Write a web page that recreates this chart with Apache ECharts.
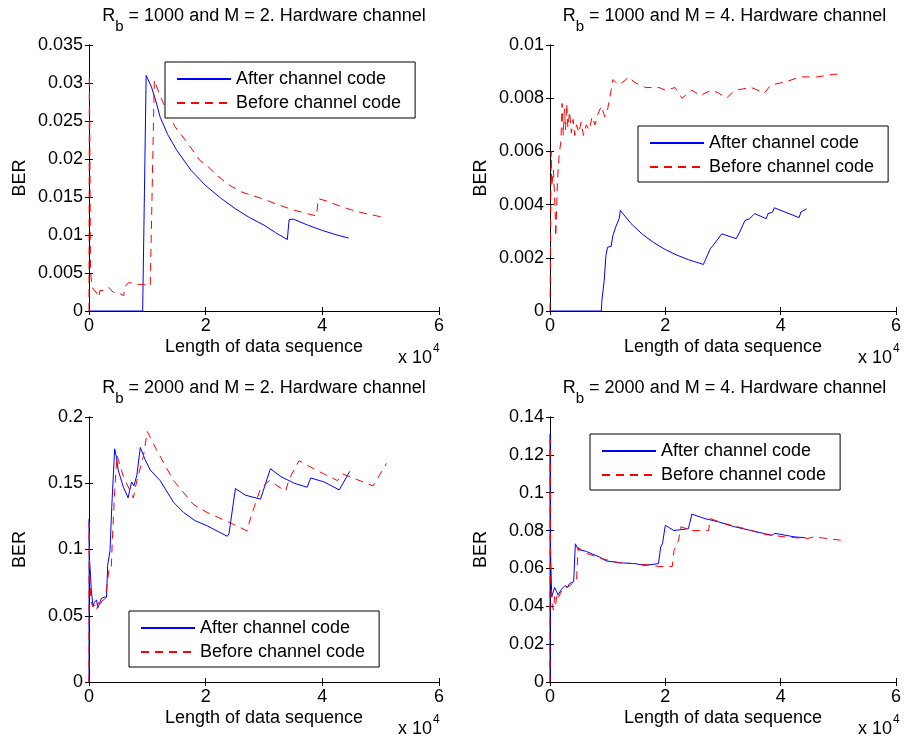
<!DOCTYPE html>
<html>
<head>
<meta charset="utf-8">
<title>BER vs length of data sequence</title>
<script src="https://cdn.jsdelivr.net/npm/echarts@6/dist/echarts.min.js"></script>
<style>
html, body { margin: 0; padding: 0; background: #fff; }
#chart { width: 904px; height: 737px; }
</style>
</head>
<body>
<div id="chart"></div>
<script>
// axis ticks
const xTickValues = [0, 20000, 40000, 60000]
const xTickLabels = ['0', '2', '4', '6']
const yMaxes = [0.035, 0.01, 0.2, 0.14]
const ySteps = [0.005, 0.002, 0.05, 0.02]

// panel captions
const rbValues = [1000, 1000, 2000, 2000]
const mValues = [2, 4, 2, 4]
const seriesNames = ['After channel code', 'Before channel code']

// Rb = 1000, M = 2
const afterA = [[0, 0], [9200, 0], [9800, 0.0310], [10700, 0.0295], [11500, 0.0275], [12200, 0.0255],
  [13500, 0.0232], [15000, 0.0212], [17500, 0.0185], [20000, 0.0165], [22500, 0.0149], [25000, 0.0135],
  [27500, 0.0123], [30000, 0.0113], [32000, 0.0103], [34000, 0.0094], [34300, 0.0120], [35000, 0.0121],
  [37500, 0.0113], [40000, 0.0106], [42500, 0.0100], [44500, 0.0096]]
const beforeA = [[0, 0], [60, 0.0310], [150, 0.022], [250, 0.0055], [350, 0.0045], [500, 0.0033],
  [800, 0.0028], [1200, 0.0025], [1700, 0.0018], [1850, 0.0027], [2400, 0.0027], [3400, 0.0031],
  [4100, 0.0025], [5300, 0.0023], [5950, 0.0020], [6100, 0.0031], [6700, 0.0037], [7300, 0.0037],
  [7800, 0.0035], [9300, 0.0035], [10500, 0.0033], [11200, 0.0304], [12000, 0.0287], [12700, 0.0274],
  [14200, 0.0251], [14700, 0.0243], [15000, 0.0245], [17000, 0.0220], [19000, 0.0198], [20000, 0.0193],
  [22000, 0.0178], [24000, 0.0166], [26000, 0.0157], [28000, 0.0152], [30000, 0.0147], [32000, 0.0141],
  [35000, 0.0133], [37500, 0.0128], [39000, 0.0125], [39300, 0.0148], [41000, 0.0144], [43000, 0.0138],
  [45000, 0.0133], [47000, 0.0129], [50000, 0.0124]]

// Rb = 1000, M = 4
const afterB = [[0, 0], [8900, 0], [9000, 0.0004], [9400, 0.00115], [9700, 0.0021], [10000, 0.0024],
  [10600, 0.00243], [10900, 0.00284], [11400, 0.00316], [12000, 0.00347], [12200, 0.00378], [12300, 0.00376],
  [14000, 0.0033], [16000, 0.00289], [18000, 0.00257], [20000, 0.00231], [22000, 0.0021], [24000, 0.00193],
  [26600, 0.00175], [26900, 0.0019], [27800, 0.00234], [28300, 0.00247], [29800, 0.0029], [30000, 0.0029],
  [32300, 0.00272], [32900, 0.00297], [33800, 0.0034], [34600, 0.00347], [35500, 0.00366], [37500, 0.00347],
  [37800, 0.00366], [38600, 0.00372], [38900, 0.00388], [43200, 0.00351], [43500, 0.00372], [44500, 0.00384]]
const beforeB = [[0, 0], [100, 0], [200, 0.0060], [300, 0.0047], [600, 0.0053], [900, 0.0037],
  [1000, 0.0028], [1300, 0.0049], [1600, 0.0059], [1900, 0.0064], [2100, 0.0078], [2300, 0.0066],
  [2500, 0.0076], [2700, 0.0068], [2900, 0.0078], [3100, 0.0069], [3400, 0.0075], [3700, 0.0067],
  [4000, 0.0072], [4300, 0.0066], [4600, 0.0070], [5000, 0.0067], [5400, 0.0071], [5800, 0.0066],
  [6300, 0.0070], [6800, 0.0068], [7300, 0.0073], [7800, 0.0070], [8300, 0.0074], [8900, 0.0077],
  [9500, 0.0073], [10000, 0.0076], [10600, 0.0083], [10900, 0.0087], [11400, 0.0086], [12000, 0.0085],
  [12600, 0.0086], [13700, 0.0088], [14600, 0.0086], [16600, 0.0084], [18900, 0.0084], [20000, 0.0083],
  [21700, 0.0084], [22900, 0.0080], [24600, 0.0083], [26000, 0.0081], [28000, 0.0083], [29200, 0.0082],
  [30600, 0.0080], [32000, 0.0083], [34900, 0.0084], [37200, 0.0082], [38300, 0.0085], [40600, 0.0086],
  [43500, 0.0088], [46400, 0.0088], [49200, 0.0089], [50900, 0.0089]]

// Rb = 2000, M = 2
const afterC = [[0, 0], [30, 0.123], [100, 0.092], [400, 0.069], [700, 0.057], [900, 0.060], [1300, 0.062],
  [1500, 0.056], [1800, 0.059], [2100, 0.063], [2600, 0.064], [3000, 0.064], [3200, 0.088], [3500, 0.087],
  [3600, 0.099], [3900, 0.132], [4400, 0.176], [4700, 0.170], [5000, 0.160], [5900, 0.147], [6700, 0.139],
  [7300, 0.151], [7700, 0.148], [8200, 0.156], [8400, 0.155], [8800, 0.177], [9600, 0.168], [10500, 0.160],
  [12200, 0.152], [14500, 0.1356], [16200, 0.128], [18200, 0.1217], [20200, 0.118], [23700, 0.110],
  [24000, 0.112], [25100, 0.146], [26800, 0.141], [29400, 0.138], [31100, 0.161], [32900, 0.155],
  [35200, 0.150], [37400, 0.147], [38000, 0.154], [40300, 0.151], [42900, 0.145], [44700, 0.159]]
const beforeC = [[0, 0], [30, 0.120], [100, 0.087], [300, 0.062], [600, 0.057], [1000, 0.058], [1300, 0.054],
  [1600, 0.060], [1800, 0.057], [2200, 0.061], [2800, 0.063], [3000, 0.063], [3400, 0.084], [3800, 0.084],
  [4000, 0.107], [4400, 0.144], [4800, 0.171], [5900, 0.155], [7600, 0.139], [8200, 0.152], [9300, 0.170],
  [10000, 0.189], [11600, 0.175], [14500, 0.152], [17900, 0.134], [20200, 0.128], [24300, 0.120],
  [27100, 0.114], [27700, 0.124], [29400, 0.146], [30900, 0.152], [33700, 0.144], [34300, 0.153],
  [36000, 0.167], [38900, 0.160], [42600, 0.152], [43500, 0.157], [48700, 0.148], [51000, 0.165]]

// Rb = 2000, M = 4
const afterD = [[0, 0], [30, 0.131], [60, 0.089], [100, 0.068], [300, 0.045], [600, 0.045], [800, 0.050],
  [1100, 0.048], [1400, 0.046], [1700, 0.047], [2000, 0.049], [2300, 0.048], [2600, 0.051], [3000, 0.050],
  [3400, 0.052], [4100, 0.053], [4400, 0.073], [4900, 0.070], [6300, 0.069], [8600, 0.066], [9700, 0.064],
  [12000, 0.063], [14900, 0.0625], [16300, 0.0616], [18800, 0.0625], [19200, 0.0714], [19500, 0.073],
  [20000, 0.0828], [21500, 0.080], [24000, 0.081], [24600, 0.0887], [26900, 0.0863], [29200, 0.0846],
  [32000, 0.082], [34900, 0.080], [37200, 0.0784], [38500, 0.0775], [39000, 0.0785], [40000, 0.078],
  [42300, 0.0767], [44300, 0.0762]]
const beforeD = [[0, 0], [30, 0.128], [100, 0.057], [400, 0.040], [600, 0.038], [800, 0.045], [1000, 0.041],
  [1200, 0.047], [1500, 0.045], [2000, 0.048], [2500, 0.050], [3000, 0.050], [3500, 0.051], [4600, 0.054],
  [4900, 0.071], [6300, 0.068], [9200, 0.065], [12000, 0.063], [14900, 0.0625], [17700, 0.0616],
  [18900, 0.061], [21200, 0.061], [21500, 0.0695], [22300, 0.075], [22700, 0.082], [24600, 0.080],
  [25800, 0.080], [27500, 0.080], [27800, 0.0863], [30300, 0.0837], [33800, 0.081], [37200, 0.078],
  [40600, 0.0767], [44600, 0.0758], [45800, 0.0767], [50400, 0.0749]]

const afterData = [afterA, afterB, afterC, afterD]
const beforeData = [beforeA, beforeB, beforeC, beforeD]

const FONT = '"Liberation Sans", Arial, sans-serif'
const layout = [
  { left: 89, top: 45, width: 350, height: 266, legendLeft: 165, legendTop: 62 },
  { left: 550, top: 45, width: 349, height: 266, legendLeft: 638, legendTop: 126 },
  { left: 89, top: 417, width: 350, height: 265, legendLeft: 129, legendTop: 611 },
  { left: 550, top: 417, width: 349, height: 265, legendLeft: 590, legendTop: 434 },
]

const chart = echarts.init(document.getElementById('chart'))

const axisLine = { show: true, lineStyle: { color: '#000', width: 1 } }
const axisTick = { show: true, inside: true, length: 4, lineStyle: { color: '#000' } }
const labelStyle = { color: '#000', fontSize: 18, fontFamily: FONT, fontWeight: 'normal' }

const grid = []
const xAxis = []
const yAxis = []
const series = []
const legend = []
const title = []
const graphic = []

layout.forEach((p, i) => {
  grid.push({ left: p.left, top: p.top, width: p.width, height: p.height, containLabel: false })

  const xBase = { type: 'value', gridIndex: i, min: xTickValues[0], max: xTickValues[xTickValues.length - 1],
    interval: xTickValues[1] - xTickValues[0], splitLine: { show: false }, axisLine, axisTick }
  xAxis.push({
    ...xBase,
    position: 'bottom',
    axisLabel: { ...labelStyle, margin: 6, formatter: (v) => xTickLabels[xTickValues.indexOf(v)] },
    name: 'Length of data sequence',
    nameLocation: 'middle',
    nameGap: 27,
    nameTextStyle: labelStyle,
  })
  xAxis.push({ ...xBase, position: 'top', axisLabel: { show: false } })

  const yBase = { type: 'value', gridIndex: i, min: 0, max: yMaxes[i], interval: ySteps[i],
    splitLine: { show: false }, axisLine, axisTick }
  yAxis.push({
    ...yBase,
    position: 'left',
    axisLabel: { ...labelStyle, margin: 6 },
    name: 'BER',
    nameLocation: 'middle',
    nameGap: 60,
    nameTextStyle: labelStyle,
  })
  yAxis.push({ ...yBase, position: 'right', axisLabel: { show: false } })

  series.push({
    name: seriesNames[0], type: 'line', xAxisIndex: i * 2, yAxisIndex: i * 2,
    data: afterData[i], symbol: 'none', animation: false,
    lineStyle: { color: '#0000ff', width: 1 }, itemStyle: { color: '#0000ff' },
  })
  series.push({
    name: seriesNames[1], type: 'line', xAxisIndex: i * 2, yAxisIndex: i * 2,
    data: beforeData[i], symbol: 'none', animation: false,
    lineStyle: { color: '#ff0000', width: 1, type: [8, 6] }, itemStyle: { color: '#ff0000' },
  })

  // line-only legend keys: the symbol is hidden
  legend.push({
    left: p.legendLeft, top: p.legendTop, orient: 'vertical', data: seriesNames,
    backgroundColor: '#fff', borderColor: '#000', borderWidth: 1, borderRadius: 0,
    padding: [8, 14, 6, 11], itemWidth: 54, itemHeight: 18, itemGap: 6, selectedMode: false,
    itemStyle: { opacity: 0 },
    textStyle: { color: '#000', fontSize: 18, fontFamily: FONT },
  })

  title.push({
    left: p.left + p.width / 2, top: 7 + (p.top - 45), textAlign: 'center', padding: 0,
    text: `{a|R}{b|b}{a| = ${rbValues[i]} and M = ${mValues[i]}. Hardware channel}`,
    textStyle: {
      fontWeight: 'normal',
      rich: {
        a: { fontSize: 18, fontFamily: FONT, fontWeight: 'normal', color: '#000', lineHeight: 22, verticalAlign: 'top' },
        b: { fontSize: 15, fontFamily: FONT, fontWeight: 'normal', color: '#000', lineHeight: 15, padding: [12, 0, 0, 0], verticalAlign: 'top' },
      },
    },
  })

  // "x 10^4" multiplier under the x axis
  const bottom = p.top + p.height
  graphic.push({ type: 'text', x: p.left + p.width - 41, y: bottom + 47,
    style: { text: 'x 10', fontSize: 18, fontFamily: FONT, fill: '#000', verticalAlign: 'middle' } })
  graphic.push({ type: 'text', x: p.left + p.width - 6, y: bottom + 38,
    style: { text: '4', fontSize: 12, fontFamily: FONT, fill: '#000', verticalAlign: 'middle' } })
})

chart.setOption({
  backgroundColor: '#fff',
  animation: false,
  title,
  grid,
  xAxis,
  yAxis,
  legend,
  series,
  graphic,
})
</script>
</body>
</html>
